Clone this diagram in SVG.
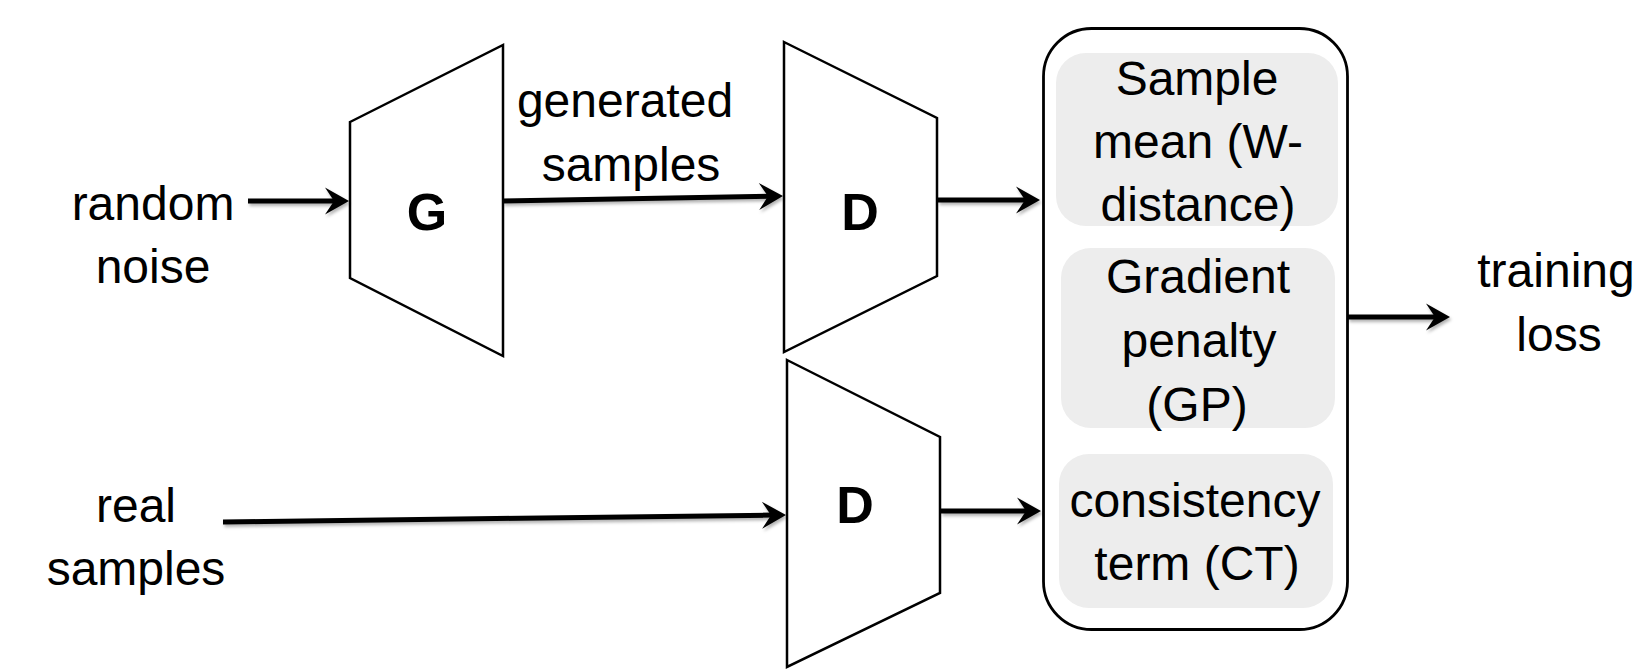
<svg xmlns="http://www.w3.org/2000/svg" width="1639" height="669" viewBox="0 0 1639 669">
<style>
text{font-family:"Liberation Sans",Arial,sans-serif;font-size:48px;fill:#000;text-anchor:middle}
.b{font-weight:bold;font-size:52px}
.trap{fill:#fff;stroke:#000;stroke-width:2.5;stroke-linejoin:miter}
.inner{fill:#ededed;stroke:none}
.conn{stroke:#000;stroke-width:5;fill:none;marker-end:url(#ah)}
</style>
<defs>
<marker id="ah" markerUnits="userSpaceOnUse" markerWidth="34" markerHeight="34" viewBox="-30 -17 34 34" refX="-10" refY="0" orient="auto">
<path d="M0,0 L-24,-13.5 L-15,0 L-24,13.5 Z" fill="#000"/>
</marker>
<filter id="sh" filterUnits="userSpaceOnUse" x="0" y="0" width="1639" height="669">
<feDropShadow dx="1.5" dy="2.5" stdDeviation="1.5" flood-color="#000" flood-opacity="0.3"/>
</filter>
</defs>
<rect width="1639" height="669" fill="#fff"/>

<g id="input-noise">
<text x="153" y="220">random</text>
<text x="153" y="283">noise</text>
</g>

<g id="generator">
<polygon class="trap" points="350,122 503,45 503,356 350,278"/>
<text class="b" x="427" y="230">G</text>
</g>

<g id="generated-label">
<text x="625" y="117">generated</text>
<text x="631" y="181">samples</text>
</g>

<g id="discriminator-fake">
<polygon class="trap" points="784,42 937,118 937,276 784,352"/>
<text class="b" x="860" y="230">D</text>
</g>

<g id="input-real">
<text x="136" y="522">real</text>
<text x="136" y="585">samples</text>
</g>

<g id="discriminator-real">
<polygon class="trap" points="787,360 940,437 940,593 787,667"/>
<text class="b" x="855" y="523">D</text>
</g>

<g id="loss-box">
<rect x="1043.5" y="28.5" width="304" height="601" rx="48" ry="48" fill="#fff" stroke="#000" stroke-width="2.8"/>
<g id="w-distance">
<rect class="inner" x="1056" y="53" width="282" height="173" rx="30" ry="30"/>
<text x="1197" y="95">Sample</text>
<text x="1198" y="158">mean (W-</text>
<text x="1198" y="221">distance)</text>
</g>
<g id="gradient-penalty">
<rect class="inner" x="1061" y="248" width="274" height="180" rx="30" ry="30"/>
<text x="1198" y="293">Gradient</text>
<text x="1199" y="357">penalty</text>
<text x="1197" y="421">(GP)</text>
</g>
<g id="consistency-term">
<rect class="inner" x="1059" y="454" width="274" height="154" rx="30" ry="30"/>
<text x="1195" y="517">consistency</text>
<text x="1197" y="580">term (CT)</text>
</g>
</g>

<g id="output-loss">
<text x="1556" y="287">training</text>
<text x="1559" y="351">loss</text>
</g>

<g id="connectors" filter="url(#sh)">
<line class="conn" x1="248" y1="201" x2="339" y2="201"/>
<line class="conn" x1="503" y1="201" x2="773" y2="196.2"/>
<line class="conn" x1="938" y1="200" x2="1030" y2="200"/>
<line class="conn" x1="941" y1="511" x2="1031" y2="511"/>
<line class="conn" x1="223" y1="522" x2="776" y2="515.1"/>
<line class="conn" x1="1348" y1="317" x2="1440" y2="317"/>
</g>
</svg>
